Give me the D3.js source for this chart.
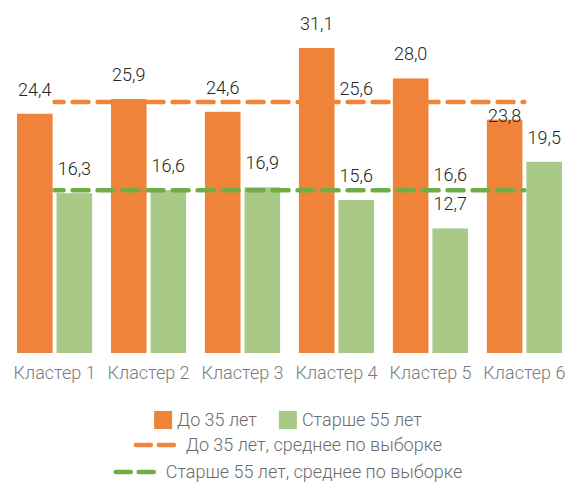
<!DOCTYPE html>
<html>
<head>
<meta charset="utf-8">
<script src="https://cdn.jsdelivr.net/npm/d3@7"></script>
<style>
  html, body { margin: 0; padding: 0; background: #fff; }
  svg { display: block; font-family: Roboto, "Noto Sans", sans-serif; font-weight: 300; }
</style>
</head>
<body>
<svg id="chart" width="566" height="484"></svg>
<script>
'use strict';

// data
const clusters   = ['Кластер 1', 'Кластер 2', 'Кластер 3', 'Кластер 4', 'Кластер 5', 'Кластер 6'];
const under35    = [24.4, 25.9, 24.6, 31.1, 28.0, 23.8];
const over55     = [16.3, 16.6, 16.9, 15.6, 12.7, 19.5];
const under35Avg = 25.6;
const over55Avg  = 16.6;
const seriesNames = ['До 35 лет', 'Старше 55 лет'];
const avgNames    = ['До 35 лет, среднее по выборке', 'Старше 55 лет, среднее по выборке'];

const COLORS = {
  under35: '#f0833a',
  over55:  '#a9c986',
  under35Line: '#f0843c',
  over55Line:  '#70ad47',
  label: '#262626',
  axis:  '#7a7a7a',
  legend: '#6b6b6b',
};

const svg = d3.select('#chart');
const fmt = v => d3.format('.1f')(v).replace('.', ',');

const x0 = d3.scaleBand().domain(clusters).range([17, 562]).paddingInner(0.2).paddingOuter(0);
const x1 = d3.scaleBand().domain(['a', 'b']).range([0, x0.bandwidth()]).paddingInner(0.1);
const y  = d3.scaleLinear().domain([0, 36]).range([353, 0]);

const rows = clusters.map((c, i) => ({ c, a: under35[i], b: over55[i] }));

// bars
const groups = svg.append('g').selectAll('g').data(rows).join('g')
  .attr('transform', d => `translate(${x0(d.c)},0)`);

groups.append('rect')
  .attr('x', x1('a')).attr('width', x1.bandwidth())
  .attr('y', d => y(d.a)).attr('height', d => y(0) - y(d.a))
  .attr('fill', COLORS.under35);

groups.append('rect')
  .attr('x', x1('b')).attr('width', x1.bandwidth())
  .attr('y', d => y(d.b)).attr('height', d => y(0) - y(d.b))
  .attr('fill', COLORS.over55);

// average lines (one point per category, centre to centre)
const line = d3.line().x(d => x0(d) + x0.bandwidth() / 2);
function avgLine(val, color) {
  svg.append('path')
    .datum(clusters)
    .attr('d', line.y(() => y(val)))
    .attr('fill', 'none')
    .attr('stroke', color)
    .attr('stroke-width', 4.5)
    .attr('stroke-linecap', 'round')
    .attr('stroke-dasharray', '16 9')
    .attr('stroke-dashoffset', 7);
}
avgLine(under35Avg, COLORS.under35Line);
avgLine(over55Avg, COLORS.over55Line);

// value labels (the last orange one sits down on its bar, under the avg line)
const labelSize = 18;
groups.append('text')
  .attr('x', x1('a') + x1.bandwidth() / 2)
  .attr('y', (d, i) => y(d.a) + (i === 5 ? 2 : -18))
  .attr('text-anchor', 'middle')
  .attr('font-size', labelSize)
  .attr('fill', COLORS.label)
  .text(d => fmt(d.a));

groups.append('text')
  .attr('x', x1('b') + x1.bandwidth() / 2)
  .attr('y', d => y(d.b) - 18)
  .attr('text-anchor', 'middle')
  .attr('font-size', labelSize)
  .attr('fill', COLORS.label)
  .text(d => fmt(d.b));

// labels on the average lines (placed over cluster 4 and cluster 5 green bars)
svg.append('text')
  .attr('x', x0(clusters[3]) + x1('b') + x1.bandwidth() / 2)
  .attr('y', y(under35Avg) - 7)
  .attr('text-anchor', 'middle')
  .attr('font-size', labelSize)
  .attr('fill', COLORS.label)
  .text(fmt(under35Avg));

svg.append('text')
  .attr('x', x0(clusters[4]) + x1('b') + x1.bandwidth() / 2)
  .attr('y', y(over55Avg) - 9)
  .attr('text-anchor', 'middle')
  .attr('font-size', labelSize)
  .attr('fill', COLORS.label)
  .text(fmt(over55Avg));

// x axis
const xAxis = svg.append('g')
  .attr('transform', `translate(0,${y(0)})`)
  .call(d3.axisBottom(x0).tickSize(0).tickPadding(13));
xAxis.select('.domain').remove();
xAxis.selectAll('text')
  .attr('font-family', 'Roboto, sans-serif')
  .attr('font-weight', 300)
  .attr('font-size', 18)
  .attr('fill', COLORS.axis);

// legend
const legend = svg.append('g').attr('font-size', 18).attr('fill', COLORS.legend);
const cx = 288;

// row 1: two boxes
const row1 = legend.append('g');
let xpos = 0;
seriesNames.forEach((name, i) => {
  const item = row1.append('g').attr('transform', `translate(${xpos},0)`);
  item.append('rect').attr('x', 0).attr('y', -9).attr('width', 18).attr('height', 18)
    .attr('fill', i === 0 ? COLORS.under35 : COLORS.over55);
  const t = item.append('text').attr('x', 23).attr('dy', '0.35em').text(name);
  xpos += 23 + t.node().getComputedTextLength() + 22;
});
xpos -= 22;
row1.attr('transform', `translate(${cx - xpos / 2},420)`);

// rows 2 and 3: dashed line samples
avgNames.forEach((name, i) => {
  const g = legend.append('g');
  const color = i === 0 ? COLORS.under35Line : COLORS.over55Line;
  [0, 23].forEach(dx => {
    g.append('line')
      .attr('x1', dx + 2).attr('x2', dx + 17)
      .attr('y1', 0).attr('y2', 0)
      .attr('stroke', color).attr('stroke-width', 4.5)
      .attr('stroke-linecap', 'round');
  });
  const t = g.append('text').attr('x', 52).attr('dy', '0.35em').text(name);
  const w = 52 + t.node().getComputedTextLength();
  g.attr('transform', `translate(${cx - w / 2},${445 + i * 27})`);
});
</script>
</body>
</html>
